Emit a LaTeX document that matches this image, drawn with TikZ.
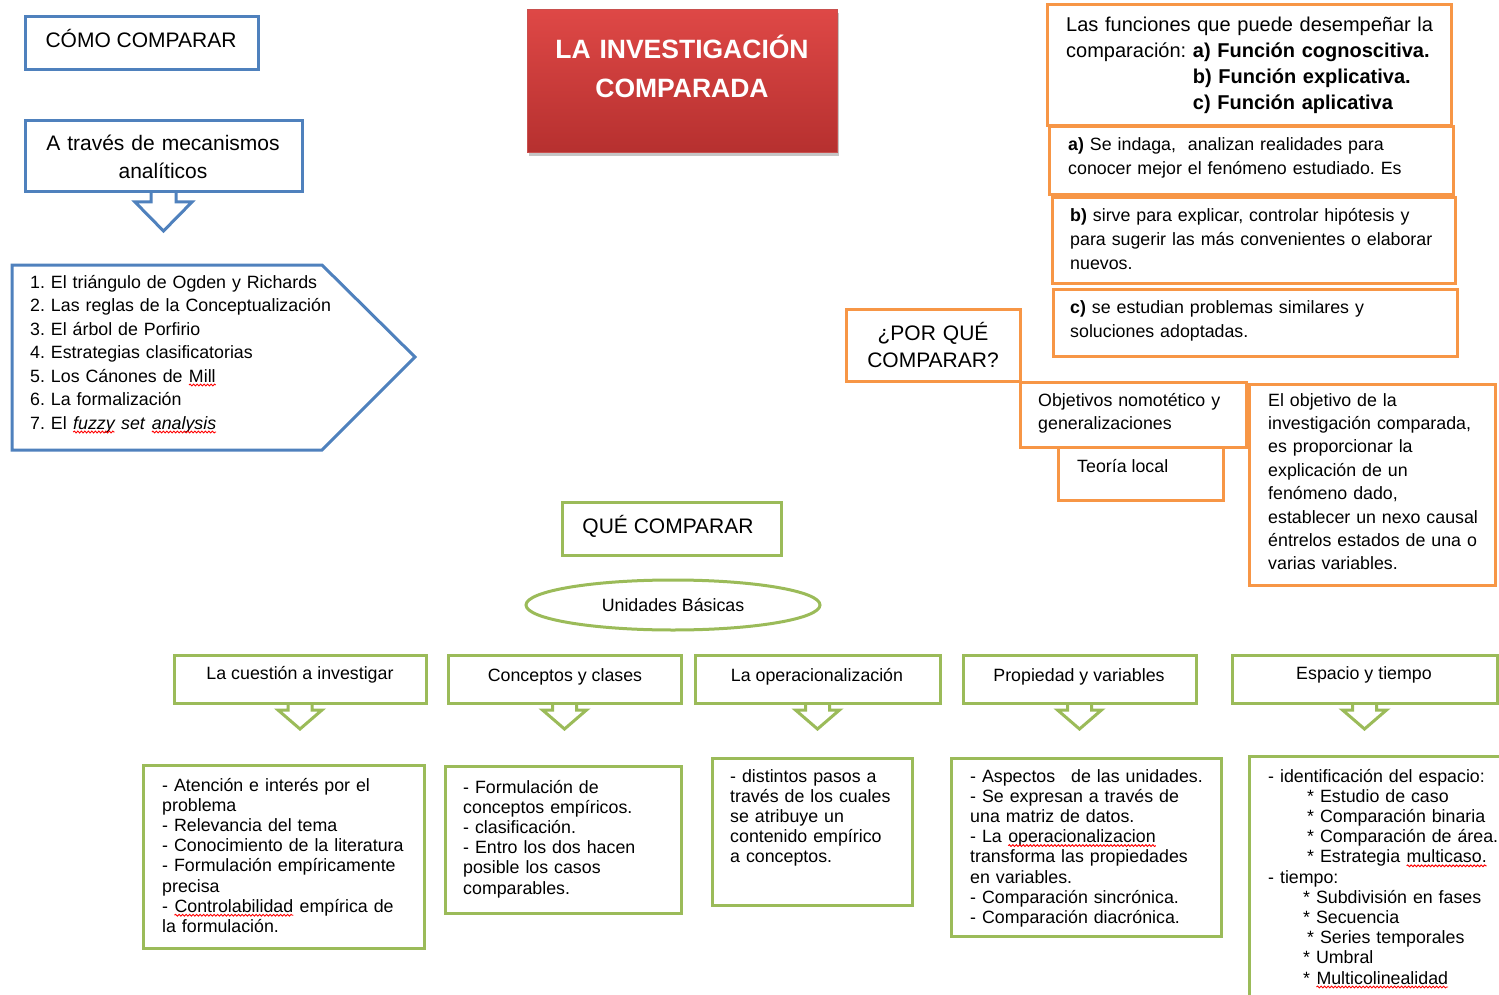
\documentclass[tikz,border=0pt]{standalone}
\usepackage{fontspec}
\setmainfont{Liberation Sans}
\usetikzlibrary{shapes.geometric,shadows,fit,decorations.pathmorphing}
\frenchspacing

\definecolor{azul}{RGB}{79,129,189}
\definecolor{naranja}{RGB}{247,150,70}
\definecolor{verde}{RGB}{155,187,89}
\definecolor{rojoA}{RGB}{222,72,70}
\definecolor{rojoB}{RGB}{182,48,47}
\definecolor{rojoC}{RGB}{200,80,78}

\newcommand\fchica{\fontsize{17.8}{20.2}\selectfont}
\newcommand\fmedia{\fontsize{17.8}{24}\selectfont}
\newcommand\flista{\fontsize{17.8}{23.5}\selectfont}
\newcommand\ffun{\fontsize{20}{26}\selectfont}
\newcommand\fmed{\fontsize{21}{28}\selectfont}
\newcommand\ftit{\bfseries\fontsize{26.5}{39}\selectfont}

% subrayado ondulado rojo (corrector)
\newcommand\rojoonda[1]{\tikz[baseline=(o.base)]{\node[inner sep=0pt, outer sep=0pt] (o) {#1};
  \draw[red, line width=0.9pt, decorate, decoration={snake, amplitude=0.9pt, segment length=3.5pt}]
    ([yshift=-3pt]o.base west) -- ([yshift=-3pt]o.base east);}}

\begin{document}
\begin{tikzpicture}[x=1pt,y=-1pt,
  caja/.style={draw, line width=3pt, inner sep=0pt, outer sep=0pt},
  cajaazul/.style={caja, draw=azul},
  cajanaranja/.style={caja, draw=naranja},
  cajaverde/.style={caja, draw=verde},
  titulo/.style={inner sep=0pt, outer sep=0pt, draw=rojoC, line width=1pt,
    top color=rojoA, bottom color=rojoB,
    drop shadow={shadow xshift=2pt, shadow yshift=-3pt, opacity=.45}},
  txt/.style={inner sep=0pt, anchor=base west, align=left, font=\fchica},
  txtc/.style={inner sep=0pt, anchor=base, align=center},
  flecha/.style={line width=3pt, line join=miter},
]
\clip (0,0) rectangle (1499,995);
\fill[white] (0,0) rectangle (1499,995);

% COMO COMPARAR
\node[cajaazul, fit={(25,17) (258,70)}] (como) {};
\node[txtc, font=\fmed] (comoTxt) at (141,47.5) {CÓMO COMPARAR};

\node[cajaazul, fit={(25,121) (302,192)}] (traves) {};
\node[txtc, font=\fmed, text width=270] (travesTxt) at (163,151) {A través de mecanismos\\ analíticos};
\draw[flecha, azul] ([xshift=-12.5pt]traves.south) -- ++(0,10) -- ++(-16,0) -- ++(28.5,29)
  -- ++(28.5,-29) -- ++(-16,0) -- ++(0,-10);

\draw[azul, line width=3pt] (12,265) -- (322,265) -- (415,357) -- (322,450) -- (12,450) -- cycle;
\node[txt, font=\flista, text width=370] (lista) at (30,288) {1. El triángulo de Ogden y Richards\\
  2. Las reglas de la Conceptualización\\
  3. El árbol de Porfirio\\
  4. Estrategias clasificatorias\\
  5. Los Cánones de \rojoonda{Mill}\\
  6. La formalización\\
  7. El \textit{\rojoonda{fuzzy}} \textit{set} \textit{\rojoonda{analysis}}};

% titulo
\node[titulo, fit={(527,10) (837,153)}] (titulo) {};
\node[txtc, text=white, font=\ftit, text width=300] (tituloTxt) at (682,58.5) {LA INVESTIGACIÓN\\ COMPARADA};

% POR QUE COMPARAR
\node[cajanaranja, fit={(1047,5) (1451,126)}] (funciones) {};
\node[txt, font=\ffun, text width=390] (funcionesTxt) at (1066,32) {Las funciones que puede desempeñar la\\
  comparación: \textbf{a) Función cognoscitiva.}\\
  \hphantom{comparación: }\textbf{b) Función explicativa.}\\
  \hphantom{comparación: }\textbf{c) Función aplicativa}};

\node[cajanaranja, fit={(1049,127) (1453,195)}] (fa) {};
\node[txt, font=\fmedia, text width=380] (faTxt) at (1068,151) {\textbf{a)} Se indaga,\ \ analizan realidades para\\
  conocer mejor el fenómeno estudiado. Es};

\node[cajanaranja, fit={(1052,198) (1455,283)}] (fb) {};
\node[txt, font=\fmedia, text width=380] (fbTxt) at (1070,222) {\textbf{b)} sirve para explicar, controlar hipótesis y\\
  para sugerir las más convenientes o elaborar\\ nuevos.};

\node[cajanaranja, fit={(1053,289) (1457,356)}] (fc) {};
\node[txt, font=\fmedia, text width=380] (fcTxt) at (1070,313) {\textbf{c)} se estudian problemas similares y\\
  soluciones adoptadas.};

\node[cajanaranja, fit={(846,309) (1020,381)}] (porque) {};
\node[txtc, font=\fontsize{21}{27}\selectfont, text width=170] (porqueTxt) at (933,340.5) {¿POR QUÉ\\ COMPARAR?};

\node[cajanaranja, fit={(1020,382) (1246,447)}] (nomo) {};
\node[txt, font=\fontsize{17.8}{23}\selectfont, text width=210] (nomoTxt) at (1038,406) {Objetivos nomotético y\\ generalizaciones};

\node[cajanaranja, fit={(1058,447) (1223,500)}] (teoria) {};
\node[txt] (teoriaTxt) at (1077,472) {Teoría local};

\node[cajanaranja, fit={(1249,384) (1495,585)}] (objetivo) {};
\node[txt, font=\fontsize{17.8}{23.4}\selectfont, text width=225] (objetivoTxt) at (1268,406) {El objetivo de la\\
  investigación comparada,\\ es proporcionar la\\ explicación de un\\ fenómeno dado,\\
  establecer un nexo causal\\ éntrelos estados de una o\\ varias variables.};

% QUE COMPARAR
\node[cajaverde, fit={(562,502) (781,555)}] (que) {};
\node[txtc, font=\fmed] (queTxt) at (668,533.5) {QUÉ COMPARAR};
\node[draw=verde, line width=3pt, ellipse, minimum width=294, minimum height=50, font=\fchica] (unidades) at (673,605) {Unidades Básicas};

\node[cajaverde, fit={(174,655) (426,703)}] (h1) {};
\node[txtc, font=\fchica] (h1Txt) at (300,679) {La cuestión a investigar};
\node[cajaverde, fit={(448,655) (681,703)}] (h2) {};
\node[txtc, font=\fchica] (h2Txt) at (565,681) {Conceptos y clases};
\node[cajaverde, fit={(695,655) (940,703)}] (h3) {};
\node[txtc, font=\fchica] (h3Txt) at (817,681) {La operacionalización};
\node[cajaverde, fit={(963,655) (1196,703)}] (h4) {};
\node[txtc, font=\fchica] (h4Txt) at (1079,681) {Propiedad y variables};
\node[cajaverde, fit={(1232,655) (1497,703)}] (h5) {};
\node[txtc, font=\fchica] (h5Txt) at (1364,679) {Espacio y tiempo};

\foreach \n in {h1,h2,h3,h4,h5}
  \draw[flecha, verde] ([xshift=-12pt]\n.south) -- ++(0,7) -- ++(-10,0) -- ++(22,19)
    -- ++(22,-19) -- ++(-10,0) -- ++(0,-7);

\node[cajaverde, fit={(143,765) (424,948)}] (b1) {};
\node[txt, text width=260] (b1Txt) at (162,791) {- Atención e interés por el\\ problema\\
  - Relevancia del tema\\ - Conocimiento de la literatura\\ - Formulación empíricamente\\ precisa\\
  - \rojoonda{Controlabilidad} empírica de\\ la formulación.};

\node[cajaverde, fit={(445,766) (681,913)}] (b2) {};
\node[txt, text width=215] (b2Txt) at (463,793) {- Formulación de\\ conceptos empíricos.\\
  - clasificación.\\ - Entro los dos hacen\\ posible los casos\\ comparables.};

\node[cajaverde, fit={(712,758) (912,905)}] (b3) {};
\node[txt, text width=180] (b3Txt) at (730,782) {- distintos pasos a\\ través de los cuales\\
  se atribuye un\\ contenido empírico\\ a conceptos.};

\node[cajaverde, fit={(951,758) (1221,936)}] (b4) {};
\node[txt, text width=250] (b4Txt) at (970,782) {- Aspectos\hspace{10pt} de las unidades.\\
  - Se expresan a través de\\ una matriz de datos.\\ - La \rojoonda{operacionalizacion}\\
  transforma las propiedades\\ en variables.\\ - Comparación sincrónica.\\ - Comparación diacrónica.};

\node[cajaverde, fit={(1249,756) (1530,1030)}] (b5) {};
\node[txt, text width=240] (b5Txt) at (1268,782) {- identificación del espacio:\\
  \hspace*{39pt}* Estudio de caso\\ \hspace*{39pt}* Comparación binaria\\
  \hspace*{39pt}* Comparación de área.\\ \hspace*{39pt}* Estrategia \rojoonda{multicaso.}\\
  - tiempo:\\ \hspace*{35pt}* Subdivisión en fases\\ \hspace*{35pt}* Secuencia\\
  \hspace*{39pt}* Series temporales\\ \hspace*{35pt}* Umbral\\ \hspace*{35pt}* \rojoonda{Multicolinealidad}};
\end{tikzpicture}
\end{document}
